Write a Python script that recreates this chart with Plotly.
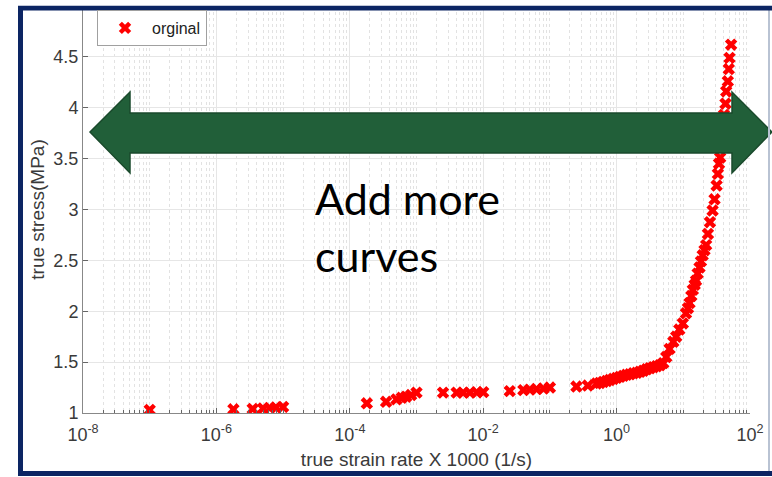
import plotly.graph_objects as go

# ---------------- data ----------------
strain_rate = [
    1e-7, 1.8e-6, 3.5e-6, 5e-6, 6.3e-6, 7.8e-6, 1e-5,
    1.8e-4, 3.5e-4, 5e-4, 6e-4, 7e-4, 8.3e-4, 1e-3,
    2.5e-3, 4e-3, 5e-3, 6.3e-3, 8e-3, 1e-2,
    2.5e-2, 4e-2, 5e-2, 6.3e-2, 8e-2, 1e-1,
    2.5e-1, 3.7e-1,
    0.50, 0.56, 0.63, 0.71, 0.79, 0.89, 1.0, 1.12, 1.26, 1.41, 1.58,
    1.78, 2.0, 2.24, 2.51, 2.82, 3.16, 3.55, 3.98, 4.47, 5.01,
    5.55, 6.22, 7.08, 7.83, 8.71, 9.84, 10.96, 11.75, 12.4, 13.2, 13.9,
    14.8, 15.5, 16.4, 17.5, 18.4, 19.5, 20.8, 22.0, 23.4, 25.1, 27.5,
    29.4, 31.6, 33.0, 34.3, 35.7, 36.7, 38.0, 39.4, 40.7, 42.9, 44.0,
    46.5, 48.1, 49.3, 52.1,
]
true_stress = [
    1.03, 1.036, 1.04, 1.045, 1.05, 1.055, 1.06,
    1.095, 1.11, 1.134, 1.15, 1.16, 1.176, 1.2,
    1.2, 1.2, 1.2, 1.2, 1.203, 1.205,
    1.215, 1.225, 1.23, 1.235, 1.24, 1.25,
    1.26, 1.27,
    1.29, 1.295, 1.305, 1.315, 1.325, 1.335, 1.345, 1.355, 1.365, 1.375, 1.38,
    1.39, 1.395, 1.405, 1.415, 1.43, 1.44, 1.45, 1.46, 1.47, 1.49,
    1.55, 1.63, 1.70, 1.75, 1.82, 1.88, 1.98, 2.03, 2.08, 2.15, 2.21,
    2.26, 2.30, 2.37, 2.43, 2.49, 2.55, 2.60, 2.65, 2.76, 2.875, 2.99,
    3.10, 3.235, 3.35, 3.45, 3.51, 3.62, 3.72, 3.83, 3.93, 4.04, 4.16,
    4.26, 4.38, 4.49, 4.62,
]
series_name = "orginal"

x_tick_vals = [1e-8, 1e-6, 1e-4, 1e-2, 1, 1e2]
x_tick_text = ["10<sup>-8</sup>", "10<sup>-6</sup>", "10<sup>-4</sup>",
               "10<sup>-2</sup>", "10<sup>0</sup>", "10<sup>2</sup>"]
y_tick_vals = [1, 1.5, 2, 2.5, 3, 3.5, 4, 4.5, 5]
y_tick_text = ["1", "1.5", "2", "2.5", "3", "3.5", "4", "4.5", "5"]

x_title = "true strain rate X 1000 (1/s)"
y_title = "true stress(MPa)"
note_lines = ["Add more", "curves"]

# ---------------- layout geometry ----------------
W, H = 772, 477
L, R, T, B = 83, 750, 6, 413  # plot area in pixels


def px(xp):
    return (xp - L) / (R - L)


def py(yp):
    return (B - yp) / (B - T)


minor_vals = []
for e in range(-8, 2):
    for k in range(1, 10):
        v = k * 10.0 ** e
        if not any(abs(v - t) / t < 1e-9 for t in x_tick_vals):
            minor_vals.append(v)

AX = "#3a3a3a"
FONT = "Liberation Sans, Arial, sans-serif"

fig = go.Figure()
fig.add_trace(go.Scatter(
    x=strain_rate, y=true_stress, mode="markers", name=series_name,
    marker=dict(symbol="x", size=11, color="#ff0000", line=dict(width=0)),
))

fig.update_xaxes(
    type="log", range=[-8, 2],
    tickvals=x_tick_vals, ticktext=x_tick_text,
    ticks="inside", ticklen=5, tickcolor="#666666",
    showline=True, linecolor="#888888", linewidth=1,
    showgrid=True, gridcolor="#e6e6e6", gridwidth=1,
    zeroline=False, mirror=False,
    tickfont=dict(family=FONT, size=18, color=AX),
    ticklabelstandoff=5,
    title=dict(text=x_title, font=dict(family=FONT, size=19, color=AX), standoff=9),
    minor=dict(tickvals=minor_vals, ticks="inside", ticklen=3, tickcolor="#666666",
               showgrid=True, gridcolor="#e2e2e2", griddash="dot", gridwidth=1),
)
fig.update_yaxes(
    range=[1, 5], tickvals=y_tick_vals, ticktext=y_tick_text,
    ticks="inside", ticklen=5, tickcolor="#666666",
    showline=True, linecolor="#888888", linewidth=1,
    showgrid=True, gridcolor="#e6e6e6", gridwidth=1,
    zeroline=False, mirror=False,
    tickfont=dict(family=FONT, size=18, color=AX),
    ticklabelstandoff=0,
    title=dict(text=y_title, font=dict(family=FONT, size=19, color=AX), standoff=3),
)

# double-headed green arrow
arrow_pts = [(90, 132), (130, 92), (130, 113), (732, 113), (732, 92), (772, 132),
             (732, 173), (732, 153), (130, 153), (130, 173)]
path = "M " + " L ".join(f"{px(a):.5f},{py(b):.5f}" for a, b in arrow_pts) + " Z"
fig.add_shape(type="path", path=path, xref="paper", yref="paper",
              fillcolor="#215f39", line=dict(color="#1a4a2c", width=1.5), layer="above")

# slide frame
fig.add_shape(type="line", xref="paper", yref="paper", x0=px(769), x1=px(769),
              y0=py(8), y1=py(474), line=dict(color="#b9c3d3", width=2), layer="above")
fig.add_shape(type="rect", xref="paper", yref="paper",
              x0=px(20.5), x1=px(790), y0=py(8), y1=py(473.5),
              line=dict(color="#0c2563", width=5), fillcolor="rgba(0,0,0,0)", layer="above")
# white outside the frame
fig.add_shape(type="rect", xref="paper", yref="paper", x0=px(-5), x1=px(18), y0=py(-5), y1=py(485),
              line=dict(width=0), fillcolor="white", layer="above")
fig.add_shape(type="rect", xref="paper", yref="paper", x0=px(-5), x1=px(790), y0=py(-5), y1=py(5.5),
              line=dict(width=0), fillcolor="white", layer="above")

# note text
for line_txt, ymid in zip(note_lines, [198, 255]):
    fig.add_annotation(text=line_txt, xref="paper", yref="paper", x=px(313), y=py(ymid),
                       xanchor="left", yanchor="middle", showarrow=False,
                       font=dict(family="Lato, Carlito, sans-serif", size=43, color="#000000"))

fig.update_layout(
    width=W, height=H,
    margin=dict(l=L, r=W - R, t=T, b=H - B, pad=0),
    paper_bgcolor="white", plot_bgcolor="white",
    showlegend=True,
    legend=dict(x=px(97), y=py(10), xanchor="left", yanchor="top",
                bgcolor="white", bordercolor="#a0a0a0", borderwidth=1,
                font=dict(family=FONT, size=16, color="#222222"),
                itemwidth=44, tracegroupgap=0),
)

fig.write_html("out.html")
